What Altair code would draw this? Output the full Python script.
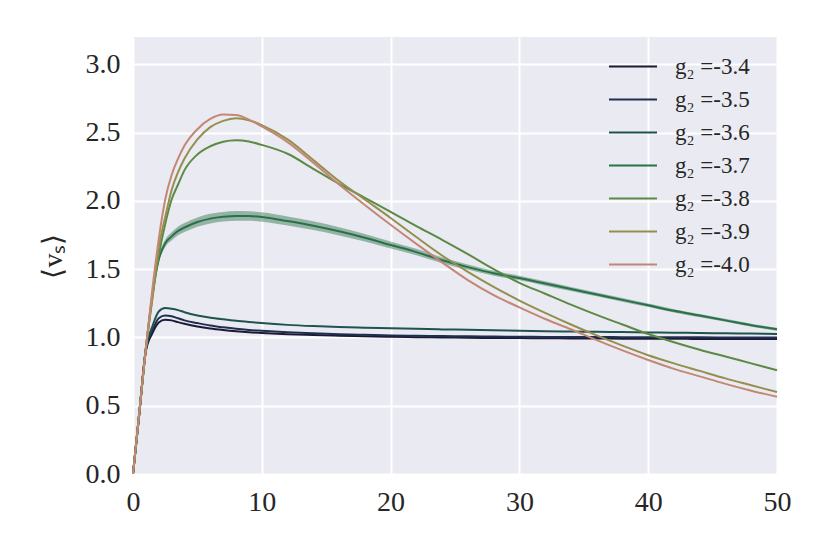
import altair as alt
import pandas as pd

xs = [0, 0.5, 1, 1.5, 2, 2.5, 3, 3.5, 4, 5, 6, 7, 8, 9, 10, 12, 14, 16, 18, 20,
      22, 24, 26, 28, 30, 32, 34, 36, 38, 40, 42, 44, 46, 48, 50]

g34 = [0, 0.45, 0.90, 1.03, 1.11, 1.13, 1.125, 1.112, 1.10,
       1.08, 1.065, 1.054, 1.045, 1.038, 1.033,
       1.024, 1.018, 1.013, 1.009, 1.005,
       1.002, 1.0, 0.998, 0.996, 0.995,
       0.994, 0.993, 0.992, 0.991, 0.990,
       0.990, 0.989, 0.989, 0.988, 0.988]
g35 = [0, 0.45, 0.91, 1.05, 1.14, 1.16, 1.155, 1.14, 1.125,
       1.105, 1.087, 1.074, 1.063, 1.055, 1.049,
       1.038, 1.030, 1.024, 1.019, 1.015,
       1.012, 1.010, 1.008, 1.006, 1.005,
       1.004, 1.003, 1.003, 1.002, 1.002,
       1.001, 1.001, 1.0, 1.0, 1.0]
g36 = [0, 0.46, 0.92, 1.08, 1.19, 1.215, 1.21, 1.20, 1.185,
       1.16, 1.145, 1.133, 1.122, 1.113, 1.105,
       1.092, 1.083, 1.076, 1.071, 1.067,
       1.063, 1.059, 1.056, 1.052, 1.049,
       1.046, 1.043, 1.041, 1.039, 1.037,
       1.035, 1.032, 1.030, 1.028, 1.026]
g37 = [0, 0.46, 0.92, 1.31, 1.57, 1.69, 1.74, 1.78, 1.805,
       1.845, 1.87, 1.884, 1.89, 1.889, 1.882,
       1.852, 1.818, 1.777, 1.73, 1.677,
       1.625, 1.565, 1.515, 1.47, 1.435,
       1.395, 1.355, 1.315, 1.275, 1.235,
       1.195, 1.16, 1.125, 1.09, 1.06]
g37_err = [0, 0.004, 0.008, 0.015, 0.022, 0.027, 0.03, 0.032, 0.033,
           0.034, 0.035, 0.035, 0.035, 0.035, 0.034,
           0.033, 0.032, 0.03, 0.028, 0.026,
           0.024, 0.022, 0.02, 0.018, 0.017,
           0.016, 0.015, 0.014, 0.013, 0.013,
           0.012, 0.012, 0.011, 0.011, 0.011]
g38 = [0, 0.46, 0.92, 1.29, 1.60, 1.83, 2.01, 2.12, 2.225,
       2.34, 2.40, 2.433, 2.444, 2.435, 2.41,
       2.345, 2.235, 2.125, 2.022, 1.92,
       1.815, 1.715, 1.61, 1.50, 1.40,
       1.32, 1.24, 1.165, 1.095, 1.025,
       0.965, 0.91, 0.86, 0.81, 0.76]
g39 = [0, 0.46, 0.92, 1.28, 1.66, 1.88, 2.08, 2.21, 2.31,
       2.45, 2.54, 2.586, 2.605, 2.59, 2.555,
       2.45, 2.30, 2.145, 2.01, 1.875,
       1.735, 1.60, 1.48, 1.37, 1.27,
       1.18, 1.095, 1.015, 0.94, 0.87,
       0.81, 0.755, 0.70, 0.65, 0.60]
g40 = [0, 0.46, 0.92, 1.35, 1.72, 2.01, 2.19, 2.31, 2.405,
       2.525, 2.60, 2.632, 2.628, 2.595, 2.545,
       2.43, 2.28, 2.12, 1.97, 1.825,
       1.685, 1.55, 1.42, 1.31, 1.22,
       1.135, 1.06, 0.98, 0.905, 0.835,
       0.77, 0.715, 0.66, 0.61, 0.565]

labels = ["g\u2082 =-3.4", "g\u2082 =-3.5", "g\u2082 =-3.6", "g\u2082 =-3.7",
          "g\u2082 =-3.8", "g\u2082 =-3.9", "g\u2082 =-4.0"]
colors = ["#1f1a33", "#1e2f4f", "#1f5350", "#2a7048", "#5a8a44", "#948f4d", "#c48776"]
series = [g34, g35, g36, g37, g38, g39, g40]

rows = []
for lab, ys in zip(labels, series):
    for x, y in zip(xs, ys):
        rows.append({"t": x, "v": y, "series": lab})
df = pd.DataFrame(rows)

band = pd.DataFrame({"t": xs,
                     "lo": [a - b for a, b in zip(g37, g37_err)],
                     "hi": [a + b for a, b in zip(g37, g37_err)]})

FONT = "Liberation Serif"

xscale = alt.Scale(domain=[0, 50], nice=False, zero=False)
yscale = alt.Scale(domain=[0, 3.2], nice=False)

xaxis = alt.Axis(values=[0, 10, 20, 30, 40, 50], format="d", title=None,
                 labelPadding=14, labelFlush=False)
yaxis = alt.Axis(values=[0, 0.5, 1.0, 1.5, 2.0, 2.5, 3.0], format=".1f",
                 title="\u27e8v\u209b\u27e9", titlePadding=18, labelPadding=13,
                 labelFlush=False)

area = alt.Chart(band).mark_area(opacity=0.45, color="#2a7048", interpolate="monotone").encode(
    x=alt.X("t:Q", scale=xscale, axis=xaxis),
    y=alt.Y("lo:Q", scale=yscale, axis=yaxis),
    y2="hi:Q",
)

lines = alt.Chart(df).mark_line(strokeWidth=2, interpolate="monotone").encode(
    x=alt.X("t:Q", scale=xscale, axis=xaxis),
    y=alt.Y("v:Q", scale=yscale, axis=yaxis),
    color=alt.Color("series:N", scale=alt.Scale(domain=labels, range=colors),
                    legend=alt.Legend(title=None, orient="none", legendX=475, legendY=13,
                                      symbolType="stroke", symbolSize=2304,
                                      symbolStrokeWidth=2, labelFont=FONT,
                                      labelFontSize=23, labelColor="#262626",
                                      labelOffset=17, rowPadding=0, clipHeight=33,
                                      padding=0)),
    detail="series:N",
)

chart = alt.layer(area, lines).properties(
    width=644, height=437,
    background="white",
    autosize=alt.AutoSizeParams(type="none"),
    padding={"left": 125, "top": 29, "right": 20, "bottom": 60},
).configure_view(
    fill="#EAEAF2", stroke=None
).configure_axis(
    grid=True, gridColor="white", gridWidth=2, domain=False, ticks=False,
    labelFont=FONT, labelFontSize=28, labelColor="#262626",
    titleFont=FONT, titleFontSize=28, titleColor="#262626", titleFontWeight="normal",
)

chart.save("out.html", embed_options={"renderer": "svg", "actions": False})
